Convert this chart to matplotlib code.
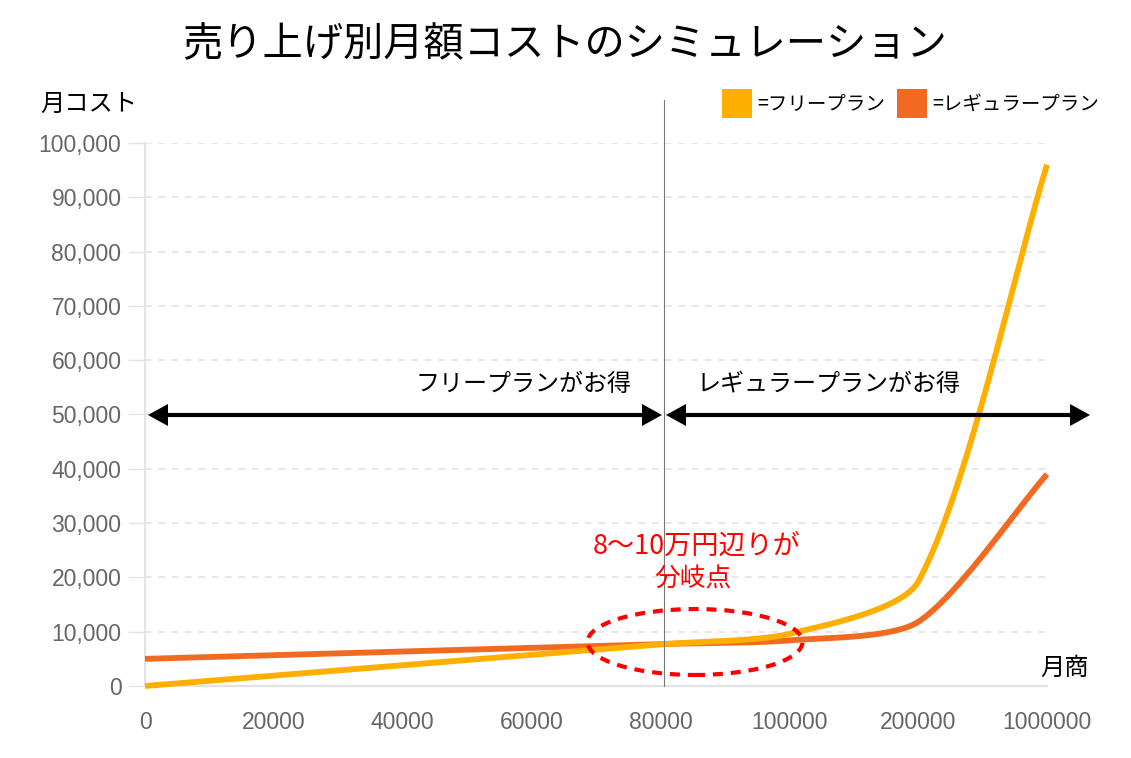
import numpy as np
import matplotlib
matplotlib.use("Agg")
import matplotlib.pyplot as plt
from matplotlib.patches import Ellipse, Polygon, Rectangle
from matplotlib.lines import Line2D

W, H = 1131, 758
JP = ["Noto Sans CJK JP", "DejaVu Sans"]

categories = ["0", "20000", "40000", "60000", "80000", "100000", "200000", "1000000"]
free_plan = [0, 1920, 3840, 5760, 7680, 9600, 19200, 96000]
regular_plan = [5000, 5680, 6360, 7040, 7720, 8400, 11800, 39000]
series_names = ["=フリープラン", "=レギュラープラン"]
colors = ["#FFAF00", "#F26A22"]
yticks = list(range(0, 100001, 10000))

AX_L, AX_R, AX_T, AX_B = 145, 1047, 143, 686
X_PX = (AX_R - AX_L) / (len(categories) - 1)   # px per category step
Y_PX = (AX_B - AX_T) / 100000                   # px per value unit


def spline(vals, tension=0.25):
    """Chart.js-style bezier spline, computed in pixel-proportional space."""
    px = np.arange(len(vals)) * X_PX
    py = np.asarray(vals, float) * Y_PX
    n = len(vals)
    pts = np.column_stack([px, py])
    cp_prev = np.zeros_like(pts)
    cp_next = np.zeros_like(pts)
    for i in range(n):
        prev = pts[max(i - 1, 0)]
        cur = pts[i]
        nxt = pts[min(i + 1, n - 1)]
        d01 = np.hypot(*(cur - prev))
        d12 = np.hypot(*(nxt - cur))
        tot = d01 + d12
        s01 = d01 / tot if tot else 0
        s12 = d12 / tot if tot else 0
        cp_prev[i] = cur - tension * s01 * (nxt - prev)
        cp_next[i] = cur + tension * s12 * (nxt - prev)
    out = []
    t = np.linspace(0, 1, 80)[:, None]
    for i in range(n - 1):
        p0, p1, p2, p3 = pts[i], cp_next[i], cp_prev[i + 1], pts[i + 1]
        seg = ((1 - t) ** 3) * p0 + 3 * ((1 - t) ** 2) * t * p1 + 3 * (1 - t) * t**2 * p2 + t**3 * p3
        out.append(seg)
    out = np.vstack(out)
    return out[:, 0] / X_PX, out[:, 1] / Y_PX


def P(px, py):
    return (px / W, 1 - py / H)


fig = plt.figure(figsize=(W / 100, H / 100), dpi=100)
ax = fig.add_axes([AX_L / W, 1 - AX_B / H, (AX_R - AX_L) / W, (AX_B - AX_T) / H])

x = np.arange(len(categories))
for vals, c, z in [(regular_plan, colors[1], 3), (free_plan, colors[0], 4)]:
    sx, sy = spline(vals)
    ax.plot(sx, sy, color=c, lw=4.2, solid_capstyle="butt", solid_joinstyle="round",
            zorder=z, clip_on=False)

ax.set_xlim(0, len(categories) - 1)
ax.set_ylim(0, 100000)
ax.set_xticks(x)
ax.set_xticklabels(categories)
ax.set_yticks(yticks)
ax.set_yticklabels([f"{v:,}" for v in yticks])
ax.tick_params(axis="x", length=0, pad=18, labelsize=16.5, labelcolor="#666666")
ax.tick_params(axis="y", length=12, width=1, color="#e3e3e3", pad=5,
               labelsize=16.5, labelcolor="#666666")
for lab in ax.get_xticklabels() + ax.get_yticklabels():
    lab.set_family("Liberation Sans")
ax.grid(axis="y", color="#e3e3e3", lw=1.2, linestyle=(0, (4, 4)))
ax.set_axisbelow(True)
for s in ["top", "right"]:
    ax.spines[s].set_visible(False)
ax.spines["left"].set_color("#e3e3e3")
ax.spines["bottom"].set_color("#e3e3e3")
ax.spines["left"].set_linewidth(1.5)
ax.spines["bottom"].set_linewidth(1.5)

# title and axis captions
fig.text(*P(565, 45), "売り上げ別月額コストのシミュレーション", family=JP, fontsize=29,
         ha="center", va="center", color="black")
fig.text(*P(40, 104), "月コスト", family=JP, fontsize=17.5, ha="left", va="center")
fig.text(*P(1040, 668), "月商", family=JP, fontsize=17.5, ha="left", va="center")

# legend
for (bx, tx), name, c in zip([(722, 757), (897, 932)], series_names, colors):
    x0, y0 = P(bx, 118)
    fig.patches.append(Rectangle((x0, y0), 30 / W, 29 / H, transform=fig.transFigure,
                                 facecolor=c, edgecolor="none"))
    fig.text(*P(tx, 104), name, family=JP, fontsize=14, ha="left", va="center")

# vertical divider
fig.add_artist(Line2D([664 / W, 664 / W], [1 - 100 / H, 1 - 686 / H],
                      transform=fig.transFigure, color="#777777", lw=0.8))


# arrows
def arrow(x1, x2, y):
    fig.add_artist(Line2D([(x1 + 15) / W, (x2 - 15) / W], [1 - y / H] * 2,
                          transform=fig.transFigure, color="black", lw=3))
    for tip, base in [(x1, x1 + 20), (x2, x2 - 20)]:
        pts = [P(tip, y), P(base, y - 11), P(base, y + 11)]
        fig.patches.append(Polygon(pts, closed=True, transform=fig.transFigure,
                                   facecolor="black", edgecolor="none"))


arrow(148, 662, 415)
arrow(666, 1090, 415)
fig.text(*P(524, 384), "フリープランがお得", family=JP, fontsize=17.3, ha="center", va="center")
fig.text(*P(829, 384), "レギュラープランがお得", family=JP, fontsize=17.3, ha="center", va="center")

# red annotation
fig.text(*P(697, 546), "8〜10万円辺りが", family=JP, fontsize=19.5, ha="center",
         va="center", color="#FF0000")
fig.text(*P(693, 580), "分岐点", family=JP, fontsize=18.5, ha="center", va="center",
         color="#FF0000")
fig.patches.append(Ellipse(P(695, 642), 215 / W, 66 / H, transform=fig.transFigure,
                           fill=False, edgecolor="#FF0000", lw=3,
                           linestyle=(0, (2.4, 1.9)), zorder=10))

fig.savefig("out.png", dpi=100)
